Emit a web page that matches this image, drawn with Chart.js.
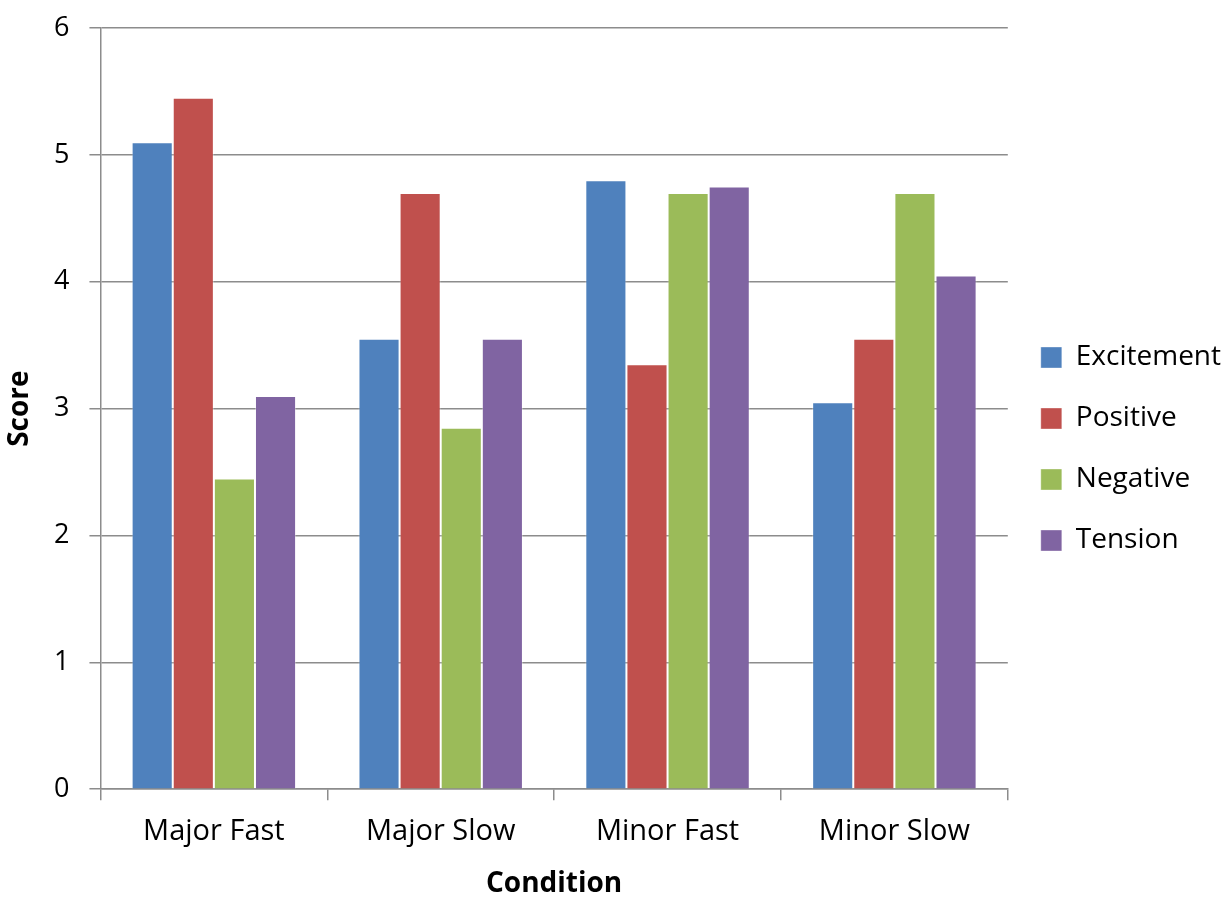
<!DOCTYPE html>
<html>
<head>
<meta charset="utf-8">
<script src="https://cdn.jsdelivr.net/npm/chart.js@4/dist/chart.umd.min.js"></script>
<style>
  html, body { margin: 0; padding: 0; background: #fff; }
  #wrap { width: 1225px; height: 898px; }
</style>
</head>
<body>
<div id="wrap"><canvas id="myChart" width="1225" height="898"></canvas></div>
<script>
// data
const conditions = ["Major Fast", "Major Slow", "Minor Fast", "Minor Slow"];
const excitement = [5.1, 3.55, 4.8, 3.05];
const positive = [5.45, 4.7, 3.35, 3.55];
const negative = [2.45, 2.85, 4.7, 4.7];
const tension = [3.1, 3.55, 4.75, 4.05];
const yTicks = [0, 1, 2, 3, 4, 5, 6];

const font = "'Open Sans', Lato, sans-serif";
const gridGray = "#8c8c8c";

function series(label, data, color) {
  return {
    label: label,
    data: data,
    backgroundColor: color,
    borderColor: "rgba(255,255,255,0.35)",
    borderWidth: 1,
    categoryPercentage: 0.725,
    barPercentage: 1.0
  };
}

const ctx = document.getElementById("myChart").getContext("2d");
const chart = new Chart(ctx, {
  type: "bar",
  data: {
    labels: conditions,
    datasets: [
      series("Excitement", excitement, "#4F81BD"),
      series("Positive", positive, "#C0504D"),
      series("Negative", negative, "#9BBB59"),
      series("Tension", tension, "#8064A2")
    ]
  },
  options: {
    responsive: false,
    animation: false,
    layout: { padding: { left: 0, right: -6, top: 0, bottom: 0 } },
    plugins: {
      tooltip: { enabled: false },
      legend: {
        position: "right",
        labels: {
          color: "#000",
          font: { family: font, size: 28 },
          boxWidth: 21,
          boxHeight: 21,
          padding: 33
        }
      }
    },
    scales: {
      x: {
        offset: true,
        grid: {
          offset: true,
          drawOnChartArea: false,
          color: gridGray,
          tickLength: 11,
          lineWidth: 1.5
        },
        border: { color: gridGray, width: 1.5 },
        ticks: {
          color: "#000",
          font: { family: font, size: 29 },
          padding: 14
        },
        title: {
          display: true,
          text: "Condition",
          color: "#000",
          font: { family: font, size: 28, weight: "bold", lineHeight: 1.0 },
          padding: { top: 7, bottom: 0 }
        }
      },
      y: {
        min: 0,
        max: 6,
        afterBuildTicks: axis => {
          axis.ticks = yTicks.map(v => ({ value: v }));
        },
        // top of the plot sits 28px below the canvas edge
        afterFit: axis => {
          axis.paddingTop = 28;
        },
        grid: {
          color: gridGray,
          tickLength: 11,
          lineWidth: 1.5
        },
        border: { color: gridGray, width: 1.5 },
        ticks: {
          color: "#000",
          font: { family: font, size: 27, lineHeight: 1.0 },
          padding: 20
        },
        title: {
          display: true,
          text: "Score",
          color: "#000",
          font: { family: font, size: 28, weight: "bold", lineHeight: 1.0 },
          padding: { top: 6, bottom: 0 }
        }
      }
    }
  }
});
</script>
</body>
</html>
